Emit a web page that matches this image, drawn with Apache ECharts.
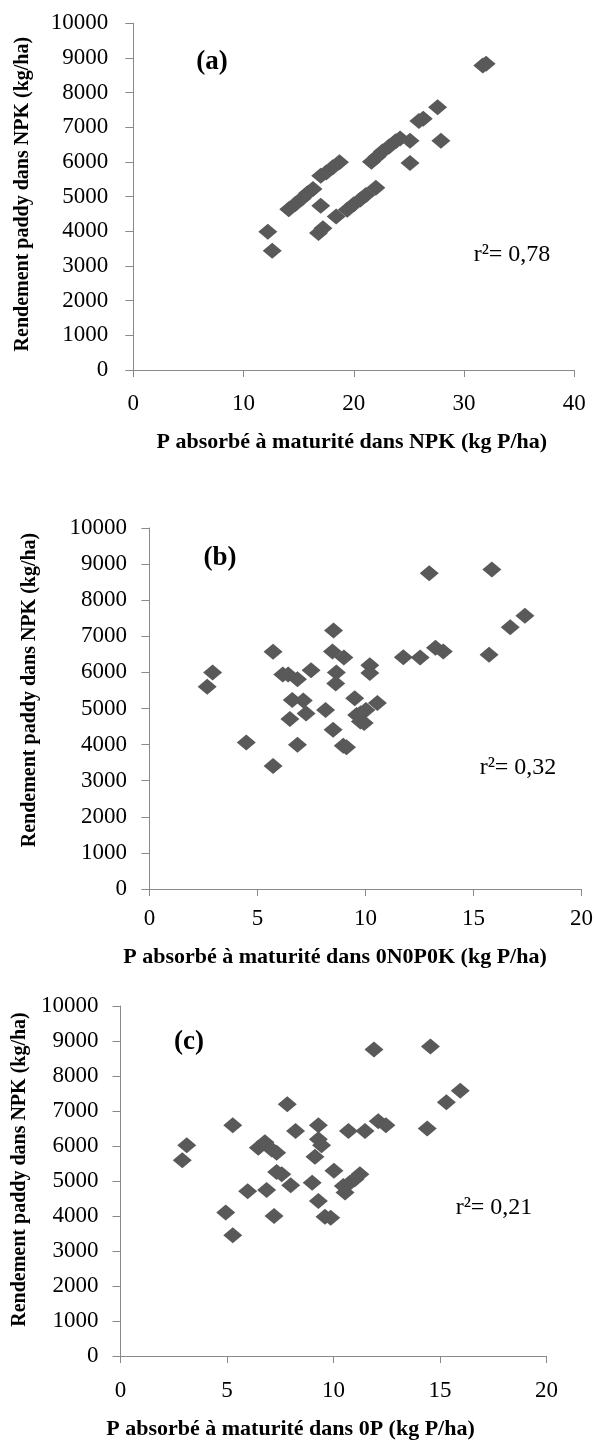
<!DOCTYPE html>
<html>
<head>
<meta charset="utf-8">
<script src="https://cdn.jsdelivr.net/npm/echarts@6/dist/echarts.min.js"></script>
<style>
html,body{margin:0;padding:0;background:#fff;}
#chart{width:596px;height:1441px;}
</style>
</head>
<body>
<div id="chart"></div>
<script>
// Panel (a): P absorbed at maturity in NPK vs paddy yield in NPK
const pNPK = [12.2, 12.6, 14.1, 14.7, 15.3, 15.8, 16.3, 17.0, 17.5, 18.1, 18.7,
  16.8, 17.2, 17.0, 18.4, 19.4, 20.0, 20.6, 21.1, 22.0, 21.6, 22.1, 22.6, 23.2,
  23.8, 24.2, 25.1, 25.1, 25.9, 26.3, 27.6, 27.9, 31.7, 32.0];
const yieldA = [3990, 3440, 4640, 4790, 4950, 5100, 5220, 5600, 5700, 5850, 5990,
  3950, 4090, 4740, 4430, 4620, 4780, 4920, 5050, 5260, 6010, 6150, 6300, 6450,
  6600, 6680, 6610, 5970, 7180, 7250, 7580, 6610, 8780, 8830];

// Panel (b): P absorbed at maturity in 0N0P0K vs paddy yield in NPK
const p0N0P0K = [2.67, 2.92, 4.48, 5.72, 5.72, 6.17, 6.42, 6.61, 6.50, 6.85, 6.85,
  7.12, 7.25, 7.48, 8.15, 8.52, 8.47, 8.65, 8.62, 8.50, 9.00, 8.97, 9.12, 9.50,
  9.59, 9.76, 9.94, 10.02, 9.78, 10.20, 10.20, 10.55, 11.75, 12.53, 12.95, 13.24,
  13.60, 15.72, 15.85, 16.70, 17.38];
const yieldB = [5600, 5995, 4060, 3410, 6570, 5940, 5940, 5235, 4710, 5810, 3995,
  5225, 4860, 6060, 4960, 7160, 6580, 6000, 5690, 4410, 6410, 3970, 3930, 5285,
  4820, 4640, 4595, 4960, 4870, 6200, 5980, 5150, 6420, 6410, 8750, 6680, 6580,
  6490, 8850, 7250, 7570];

// Panel (c): P absorbed at maturity in 0P vs paddy yield in NPK
const p0P = [2.90, 3.11, 4.94, 5.27, 5.27, 5.97, 6.47, 6.78, 6.86, 7.10, 7.33,
  7.21, 7.33, 7.57, 7.99, 7.83, 8.22, 9.00, 9.29, 9.29, 9.29, 9.44, 9.13, 9.60,
  9.87, 10.02, 10.70, 11.48, 11.24, 10.54, 10.46, 10.77, 11.00, 11.90, 14.55,
  12.10, 12.46, 14.40, 15.30, 15.95];
const yieldC = [5590, 6020, 4100, 3450, 6590, 4710, 5950, 6110, 4740, 5900, 5810,
  4000, 5260, 5190, 4880, 7190, 6430, 4950, 4430, 6590, 6190, 6020, 5690, 3980,
  3950, 5290, 6430, 6430, 5190, 4670, 4860, 4950, 5050, 8760, 8840, 6710, 6590,
  6500, 7250, 7580];

const panelLetters = ['(a)', '(b)', '(c)'];
const rSquared = ['0,78', '0,32', '0,21'];
const xTitles = ['P absorbé à maturité dans NPK (kg P/ha)',
  'P absorbé à maturité dans 0N0P0K (kg P/ha)',
  'P absorbé à maturité dans 0P (kg P/ha)'];
const yTitle = 'Rendement paddy dans NPK (kg/ha)';
const xMax = [40, 20, 20];
const xInterval = [10, 5, 5];

const SERIF = 'Liberation Serif';
const AXIS_COLOR = '#898989';
const MARK_COLOR = '#595959';

const grids = [
  {left: 133.3, top: 23.3, width: 441, height: 346.7},
  {left: 149.5, top: 528, width: 436, height: 361},
  {left: 120.5, top: 1006, width: 426, height: 351}
];
const yLabelMargin = [25, 22.6, 22];
const xLabelMargin = [22, 18, 23];
const yNameGap = [100, 110, 84];
const yNamePad = [[0, 0, 0, 5], [0, 0, 0, 37], [0, 0, 0, 23]];
const xNameGap = [61, 57, 62];
const xNamePad = [[0, 4, 0, 0], [0, 61, 0, 0], [0, 86, 0, 0]];
const letterPos = [[212, 62], [220, 558], [189, 1042]];
const rPos = [[512, 255], [518, 768], [494, 1208]];

const xData = [pNPK, p0N0P0K, p0P];
const yData = [yieldA, yieldB, yieldC];

const axisCommon = {
  axisLine: {show: true, onZero: false, lineStyle: {color: AXIS_COLOR, width: 1}},
  splitLine: {show: false}
};

const option = {
  animation: false,
  backgroundColor: '#ffffff',
  grid: grids.map(g => Object.assign({containLabel: false}, g)),
  xAxis: grids.map((g, i) => Object.assign({}, axisCommon, {
    gridIndex: i, type: 'value', min: 0, max: xMax[i], interval: xInterval[i],
    axisTick: {show: true, length: 7, lineStyle: {color: AXIS_COLOR}},
    axisLabel: {margin: xLabelMargin[i], color: '#000', fontFamily: SERIF, fontSize: 23,
      formatter: v => String(v)},
    name: xTitles[i], nameLocation: 'middle', nameGap: xNameGap[i],
    nameTextStyle: {color: '#000', fontFamily: SERIF, fontWeight: 'bold', fontSize: 22, padding: xNamePad[i]}
  })),
  yAxis: grids.map((g, i) => Object.assign({}, axisCommon, {
    gridIndex: i, type: 'value', min: 0, max: 10000, interval: 1000,
    axisTick: {show: true, length: 8, lineStyle: {color: AXIS_COLOR}},
    axisLabel: {margin: yLabelMargin[i], color: '#000', fontFamily: SERIF, fontSize: 23,
      formatter: v => String(v)},
    name: yTitle, nameLocation: 'middle', nameRotate: 90, nameGap: yNameGap[i],
    nameTextStyle: {color: '#000', fontFamily: SERIF, fontWeight: 'bold', fontSize: 20, padding: yNamePad[i]}
  })),
  series: xData.map((xs, i) => ({
    type: 'scatter', xAxisIndex: i, yAxisIndex: i,
    symbol: 'diamond', symbolSize: [19, 16],
    itemStyle: {color: MARK_COLOR, opacity: 1},
    data: xs.map((x, j) => [x, yData[i][j]])
  })),
  graphic: [].concat(
    panelLetters.map((t, i) => ({
      type: 'text', x: letterPos[i][0], y: letterPos[i][1], z: 10,
      style: {text: t, fill: '#000', font: 'bold 27px "' + SERIF + '"', align: 'center', verticalAlign: 'middle'}
    })),
    rSquared.map((r, i) => ({
      type: 'text', x: rPos[i][0], y: rPos[i][1], z: 10,
      style: {text: 'r²= ' + r, fill: '#000', font: '24px "' + SERIF + '"', align: 'center', verticalAlign: 'middle'}
    }))
  )
};

const chart = echarts.init(document.getElementById('chart'), null, {renderer: 'canvas', width: 596, height: 1441});
chart.setOption(option);
</script>
</body>
</html>
